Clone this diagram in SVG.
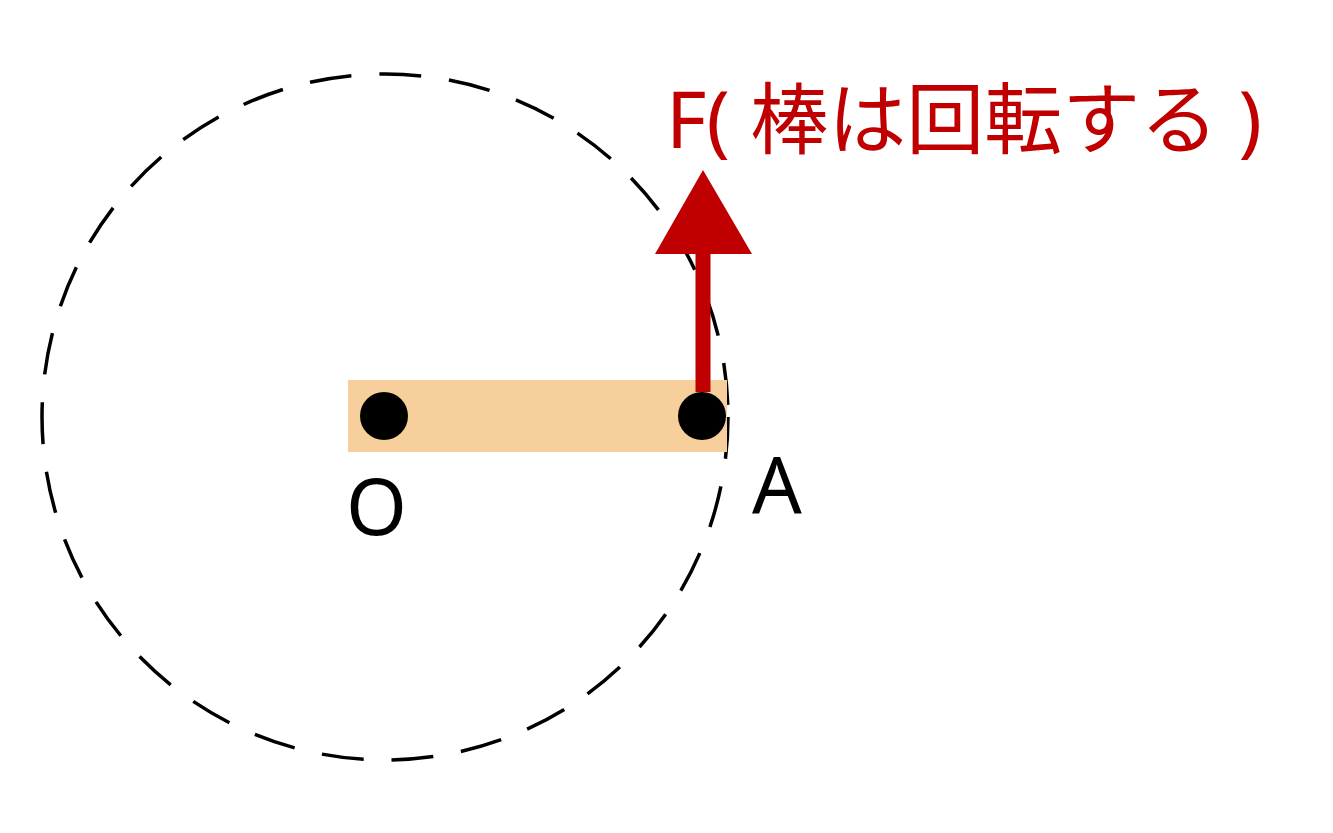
<svg xmlns="http://www.w3.org/2000/svg" width="1333" height="833" viewBox="0 0 1333 833">
<style>
.t{font-family:"Noto Sans","Noto Sans CJK JP",sans-serif;font-size:78px}
</style>
<rect width="1333" height="833" fill="#fff"/>
<circle cx="385" cy="417" r="343" fill="none" stroke="#000" stroke-width="3.5" stroke-dasharray="42 28"/>
<rect x="348" y="380" width="379" height="72" fill="#F6CF9C"/>
<circle cx="384" cy="416" r="24" fill="#000"/>
<circle cx="702" cy="416" r="24" fill="#000"/>
<line x1="703" y1="392" x2="703" y2="245" stroke="#C00000" stroke-width="15"/>
<polygon points="655,254 752,254 703,170" fill="#C00000"/>
<text class="t" x="666" y="148" fill="#C00000">F( 棒は回転する )</text>
<text class="t" x="346" y="535">O</text>
<text class="t" x="752" y="513">A</text>
</svg>
